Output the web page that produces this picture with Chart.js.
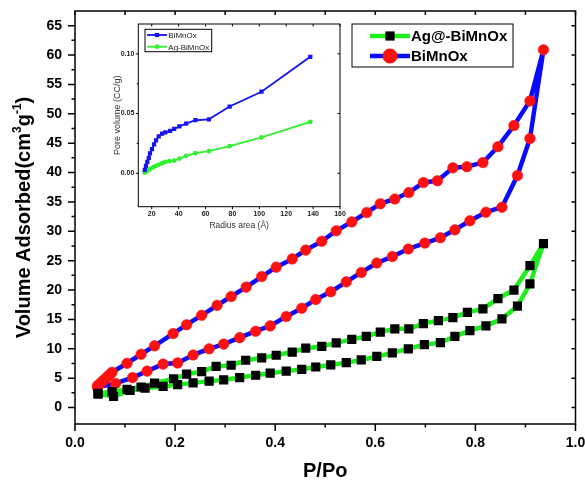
<!DOCTYPE html>
<html>
<head>
<meta charset="utf-8">
<script src="https://cdn.jsdelivr.net/npm/chart.js@4.4.1/dist/chart.umd.min.js"></script>
<style>
  html, body { margin:0; padding:0; background:#fff; }
  .wrap { position:relative; width:585px; height:484px; }
  #main { position:absolute; left:0; top:0; }
  #inset { position:absolute; left:100px; top:14px; }
</style>
</head>
<body>
<div class="wrap">
  <canvas id="main" width="585" height="484"></canvas>
  <canvas id="inset" width="250" height="222"></canvas>
</div>
<script>
const FONT = "'Liberation Sans', Arial, sans-serif";

// N2 isotherms — adsorption branch (rising P/Po), then desorption branch (falling)
const bimAdsP = [0.045, 0.081, 0.115, 0.144, 0.176, 0.205, 0.236, 0.268, 0.297, 0.329, 0.361, 0.390, 0.422, 0.453, 0.481,
                 0.511, 0.542, 0.572, 0.603, 0.634, 0.666, 0.699, 0.730, 0.759, 0.789, 0.821, 0.853, 0.884, 0.909, 0.936];
const bimAdsV = [3.5, 4.1, 5.1, 6.2, 7.4, 7.6, 8.95, 10.0, 10.8, 11.9, 13.0, 13.9, 15.5, 16.9, 18.4,
                 19.7, 21.4, 23.0, 24.6, 25.7, 27.0, 28.0, 28.9, 30.25, 31.8, 33.25, 34.1, 39.5, 45.8, 60.9];
const bimDesP = [0.909, 0.877, 0.845, 0.815, 0.783, 0.755, 0.724, 0.696, 0.667, 0.639, 0.610, 0.583, 0.553, 0.522, 0.493,
                 0.461, 0.434, 0.402, 0.373, 0.342, 0.312, 0.284, 0.253, 0.223, 0.196, 0.159, 0.132, 0.104,
                 0.074, 0.069, 0.064, 0.059, 0.054, 0.049, 0.045];
const bimDesV = [52.2, 48.0, 44.4, 41.7, 41.0, 40.8, 38.6, 38.3, 36.6, 35.5, 34.7, 33.2, 31.6, 30.1, 28.3,
                 26.8, 25.3, 23.9, 22.3, 20.5, 18.9, 17.4, 15.7, 14.1, 12.6, 10.5, 9.07, 7.54,
                 6.0, 5.6, 5.2, 4.8, 4.4, 4.0, 3.7];

const agAdsP = [0.046, 0.077, 0.110, 0.140, 0.176, 0.205, 0.236, 0.268, 0.297, 0.329, 0.361, 0.390, 0.422, 0.453, 0.481,
                0.511, 0.542, 0.572, 0.603, 0.634, 0.666, 0.698, 0.730, 0.759, 0.789, 0.821, 0.853, 0.884, 0.909, 0.936];
const agAdsV = [2.3, 1.9, 2.9, 3.3, 3.6, 3.9, 4.2, 4.5, 4.7, 5.1, 5.5, 5.85, 6.2, 6.5, 6.9,
                7.25, 7.65, 8.1, 8.7, 9.3, 10.0, 10.7, 11.05, 12.1, 13.1, 13.9, 15.1, 17.25, 21.05, 27.9];
const agDesP = [0.909, 0.877, 0.845, 0.815, 0.784, 0.755, 0.726, 0.696, 0.667, 0.639, 0.610, 0.582, 0.553, 0.522, 0.493,
                0.461, 0.434, 0.402, 0.373, 0.341, 0.312, 0.282, 0.253, 0.223, 0.197, 0.159, 0.132, 0.104, 0.074, 0.046];
const agDesV = [24.15, 20.0, 18.55, 16.8, 16.2, 15.3, 14.8, 14.3, 13.4, 13.4, 12.85, 12.1, 11.6, 11.0, 10.4,
                10.1, 9.45, 8.9, 8.45, 8.05, 7.2, 7.0, 6.1, 5.7, 4.9, 4.15, 3.5, 3.1, 2.7, 2.4];

const xTicks = [0, 0.2, 0.4, 0.6, 0.8, 1.0];
const xMinorTicks = [0.1, 0.3, 0.5, 0.7, 0.9];
const yTicks = [0, 5, 10, 15, 20, 25, 30, 35, 40, 45, 50, 55, 60, 65];
const yMinorTicks = [2.5, 7.5, 12.5, 17.5, 22.5, 27.5, 32.5, 37.5, 42.5, 47.5, 52.5, 57.5, 62.5];

// pore size distribution (inset)
const poreR   = [14.8, 15.7, 16.7, 17.8, 18.7, 20.2, 21.7, 23.2, 25.2, 27.7, 30.1, 33.7, 36.7, 40.6, 45.6, 52.5, 62.5, 77.9, 101.6, 137.9];
const poreBim = [0.0028, 0.0062, 0.0095, 0.0129, 0.0166, 0.0202, 0.0241, 0.0275, 0.0309, 0.0331, 0.0342, 0.0354, 0.0371, 0.0393,
                 0.0416, 0.0444, 0.0452, 0.0559, 0.0683, 0.0975];
const poreAgR = [14.8, 16.3, 17.8, 19.3, 21.2, 23.2, 25.2, 27.7, 30.1, 33.1, 36.6, 40.6, 45.6, 52.5, 62.5, 77.9, 101.6, 137.9];
const poreAg  = [0.0005, 0.0017, 0.0028, 0.0039, 0.0051, 0.0062, 0.0073, 0.0084, 0.0095, 0.0101, 0.0106, 0.0123, 0.0146,
                 0.0169, 0.0185, 0.0228, 0.0301, 0.0430];
const insetXTicks = [20, 40, 60, 80, 100, 120, 140, 160];
const insetYTicks = [0, 0.05, 0.10];

const pts = (xs, ys) => xs.map((x, i) => ({ x, y: ys[i] }));
const loop = (aP, aV, dP, dV) => pts(aP, aV).concat(pts(dP, dV));

// fixed axis box sizes; labels may hang past the plot edges
const fitX = h => s => { s.height = h; s.paddingLeft = 0; s.paddingRight = 0; };
const fitY = w => s => { s.width = w; s.paddingTop = 0; s.paddingBottom = 0; };

// frame + ticks + legend, drawn on top of the data
function framePlugin(o) {
  return {
    id: 'frame',
    afterDraw(chart) {
      const { ctx, chartArea: a, scales: { x, y } } = chart;
      ctx.save();
      ctx.strokeStyle = '#000';
      ctx.lineWidth = o.lw;
      ctx.strokeRect(a.left, a.top, a.right - a.left, a.bottom - a.top);
      ctx.beginPath();
      const seg = (x1, y1, x2, y2) => { ctx.moveTo(x1, y1); ctx.lineTo(x2, y2); };
      o.xMajor.forEach(v => { const p = x.getPixelForValue(v); seg(p, a.bottom, p, a.bottom + o.major); seg(p, a.top, p, a.top + o.inner); });
      o.xMinor.forEach(v => { const p = x.getPixelForValue(v); seg(p, a.bottom, p, a.bottom + o.minor); seg(p, a.top, p, a.top + o.inner); });
      o.yMajor.forEach(v => { const p = y.getPixelForValue(v); seg(a.left, p, a.left - o.major, p); seg(a.right, p, a.right - o.inner, p); });
      o.yMinor.forEach(v => { const p = y.getPixelForValue(v); seg(a.left, p, a.left - o.minor, p); });
      ctx.stroke();

      // legend
      const L = o.legend;
      ctx.lineWidth = 1;
      ctx.strokeStyle = '#000';
      ctx.strokeRect(L.x, L.y, L.w, L.h);
      L.rows.forEach((r, i) => {
        const ds = chart.data.datasets[r.ds];
        const cy = L.y + L.rowY[i];
        ctx.strokeStyle = ds.borderColor;
        ctx.lineWidth = ds.borderWidth;
        ctx.beginPath(); ctx.moveTo(L.x + L.line0, cy); ctx.lineTo(L.x + L.line1, cy); ctx.stroke();
        ctx.fillStyle = ds.pointBackgroundColor;
        ctx.strokeStyle = ds.pointBorderColor;
        Chart.helpers.drawPoint(ctx, { pointStyle: ds.pointStyle, radius: ds.pointRadius, rotation: 0, borderWidth: ds.pointBorderWidth },
          L.x + (L.line0 + L.line1) / 2, cy);
        ctx.fillStyle = L.color;
        ctx.font = L.font;
        ctx.textAlign = 'left';
        ctx.textBaseline = 'middle';
        ctx.fillText(ds.label, L.x + L.text, cy + 1);
      });

      if (o.yTitle) o.yTitle(ctx, a);
      ctx.restore();
    }
  };
}

// rotated axis title with superscripts
function drawVolumeTitle(ctx, a) {
  const parts = [
    { t: 'Volume Adsorbed(cm', sup: false },
    { t: '3', sup: true },
    { t: 'g', sup: false },
    { t: '-1', sup: true },
    { t: ')', sup: false }
  ];
  const big = 'bold 20px ' + FONT, small = 'bold 12px ' + FONT;
  let total = 0;
  parts.forEach(p => { ctx.font = p.sup ? small : big; p.w = ctx.measureText(p.t).width; total += p.w; });
  ctx.save();
  ctx.translate(30, (a.top + a.bottom) / 2);
  ctx.rotate(-Math.PI / 2);
  ctx.fillStyle = '#000';
  ctx.textAlign = 'left';
  ctx.textBaseline = 'alphabetic';
  let cx = -total / 2;
  parts.forEach(p => {
    ctx.font = p.sup ? small : big;
    ctx.fillText(p.t, cx, p.sup ? -9 : 0);
    cx += p.w;
  });
  ctx.restore();
}

new Chart(document.getElementById('main'), {
  type: 'scatter',
  data: {
    datasets: [
      {
        label: 'Ag@-BiMnOx',
        data: loop(agAdsP, agAdsV, agDesP, agDesV),
        showLine: true,
        borderColor: '#1eee1e',
        borderWidth: 4.5,
        borderJoinStyle: 'round',
        pointStyle: 'rect',
        pointRadius: 6.5,
        pointBackgroundColor: '#000',
        pointBorderColor: '#000',
        pointBorderWidth: 0
      },
      {
        label: 'BiMnOx',
        data: loop(bimAdsP, bimAdsV, bimDesP, bimDesV),
        showLine: true,
        borderColor: '#0a0aff',
        borderWidth: 4.5,
        borderJoinStyle: 'round',
        pointStyle: 'circle',
        pointRadius: 5.3,
        pointBackgroundColor: '#ff1010',
        pointBorderColor: '#ff1010',
        pointBorderWidth: 0.5
      }
    ]
  },
  options: {
    responsive: false,
    animation: false,
    layout: { padding: { top: 11, right: 9.5, left: 0, bottom: 0 } },
    plugins: { legend: { display: false }, tooltip: { enabled: false } },
    scales: {
      x: {
        type: 'linear', min: 0, max: 1.0,
        afterBuildTicks: s => { s.ticks = xTicks.map(v => ({ value: v })); },
        afterFit: fitX(60),
        grid: { display: false, drawTicks: false },
        border: { display: false },
        ticks: { padding: 11, color: '#000', font: { family: FONT, size: 14, weight: 'bold' }, callback: v => v.toFixed(1) },
        title: { display: true, text: 'P/Po', color: '#000', font: { family: FONT, size: 20, weight: 'bold' }, padding: { top: 0, bottom: 1 } }
      },
      y: {
        type: 'linear', min: -2.8, max: 67.5,
        afterBuildTicks: s => { s.ticks = yTicks.map(v => ({ value: v })); },
        afterFit: fitY(75),
        grid: { display: false, drawTicks: false },
        border: { display: false },
        ticks: { padding: 13, color: '#000', font: { family: FONT, size: 14, weight: 'bold' } }
      }
    }
  },
  plugins: [framePlugin({
    lw: 1.5, major: 7, minor: 3.5, inner: 4,
    xMajor: xTicks, xMinor: xMinorTicks, yMajor: yTicks, yMinor: yMinorTicks,
    legend: {
      x: 352, y: 24, w: 161, h: 43,
      rowY: [12, 32], line0: 18, line1: 58, text: 59,
      font: 'bold 15px ' + FONT, color: '#000',
      rows: [{ ds: 0 }, { ds: 1 }]
    },
    yTitle: drawVolumeTitle
  })]
});

new Chart(document.getElementById('inset'), {
  type: 'scatter',
  data: {
    datasets: [
      {
        label: 'BiMnOx',
        data: pts(poreR, poreBim),
        showLine: true,
        borderColor: '#1414f0',
        borderWidth: 1.8,
        pointStyle: 'rect',
        pointRadius: 3,
        pointBackgroundColor: '#1414f0',
        pointBorderColor: '#1414f0',
        pointBorderWidth: 0
      },
      {
        label: 'Ag-BiMnOx',
        data: pts(poreAgR, poreAg),
        showLine: true,
        borderColor: '#30f030',
        borderWidth: 1.8,
        pointStyle: 'circle',
        pointRadius: 2.4,
        pointBackgroundColor: '#30f030',
        pointBorderColor: '#30f030',
        pointBorderWidth: 0
      }
    ]
  },
  options: {
    responsive: false,
    animation: false,
    layout: { padding: { top: 10, right: 10, left: 0, bottom: 0 } },
    plugins: { legend: { display: false }, tooltip: { enabled: false } },
    scales: {
      x: {
        type: 'linear', min: 10, max: 160,
        afterBuildTicks: s => { s.ticks = insetXTicks.map(v => ({ value: v })); },
        afterFit: fitX(29.3),
        grid: { display: false, drawTicks: false },
        border: { display: false },
        ticks: { padding: 3, color: '#222', font: { family: FONT, size: 7, weight: 'bold' } },
        title: { display: true, text: 'Radius area (Å)', color: '#333', font: { family: FONT, size: 8.5 }, padding: { top: 0, bottom: 5 } }
      },
      y: {
        type: 'linear', min: -0.028, max: 0.125,
        afterBuildTicks: s => { s.ticks = insetYTicks.map(v => ({ value: v })); },
        afterFit: fitY(38.3),
        grid: { display: false, drawTicks: false },
        border: { display: false },
        ticks: { padding: 4, color: '#222', font: { family: FONT, size: 7, weight: 'bold' }, callback: v => v.toFixed(2) },
        title: { display: true, text: 'Pore volume (CC/g)', color: '#333', font: { family: FONT, size: 9 }, padding: { top: 12, bottom: 0 } }
      }
    }
  },
  plugins: [framePlugin({
    lw: 1, major: 2.5, minor: 1.5, inner: 2.5,
    xMajor: insetXTicks, xMinor: [], yMajor: insetYTicks, yMinor: [0.025, 0.075],
    legend: {
      x: 45, y: 15.3, w: 66.7, h: 22.4,
      rowY: [5.7, 17.4], line0: 2, line1: 22, text: 23.3,
      font: '8px ' + FONT, color: '#222',
      rows: [{ ds: 0 }, { ds: 1 }]
    }
  })]
});
</script>
</body>
</html>
